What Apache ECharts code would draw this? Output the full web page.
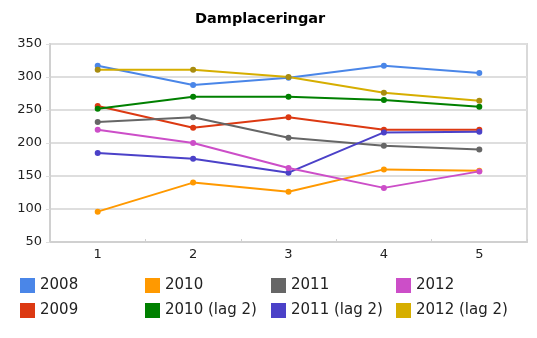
<!DOCTYPE html>
<html><head><meta charset="utf-8">
<script src="https://cdn.jsdelivr.net/npm/echarts@6/dist/echarts.min.js"></script>
<style>html,body{margin:0;padding:0;background:#fff}#c{width:537px;height:338px}</style>
</head><body><div id="c"></div>
<script>
var categories = ['1','2','3','4','5'];
var seriesNames = ['2008','2009','2010','2010 (lag 2)','2011','2011 (lag 2)','2012','2012 (lag 2)'];
var s2008 = [317, 288, 299, 317, 306];
var s2009 = [256, 223, 239, 220, 220];
var s2010 = [96, 140, 126, 160, 158];
var s2010lag2 = [252, 270, 270, 265, 255];
var s2011 = [232, 239, 208, 196, 190];
var s2011lag2 = [185, 176, 155, 216, 217];
var s2012 = [220, 200, 162, 132, 157];
var s2012lag2 = [311, 311, 300, 276, 264];
var colors = ['#4a86e8','#dc3912','#ff9900','#008000','#666666','#4b41c8','#cc4ec8','#d6ae00'];
var yTicks = [50,100,150,200,250,300,350];

var values = [s2008, s2009, s2010, s2010lag2, s2011, s2011lag2, s2012, s2012lag2];
var font = 'DejaVu Sans';
var chart = echarts.init(document.getElementById('c'), null, {renderer:'canvas'});
var series = seriesNames.map(function(n,i){
  return {
    name: n, type: 'line', data: values[i],
    symbol: 'circle', symbolSize: 6,
    lineStyle: {width: 2, color: colors[i]},
    itemStyle: {color: i===7 ? '#a88c10' : colors[i]},
    emphasis: {disabled: true},
    animation: false
  };
});
var legendCols = [[0,1],[2,3],[4,5],[6,7]];
var lefts = [20, 145, 271, 396];
var legends = legendCols.map(function(c,k){
  return {
    orient: 'vertical', left: lefts[k], top: 278, padding: 0,
    itemWidth: 15, itemHeight: 15, itemGap: 10,
    icon: 'rect', selectedMode: false,
    data: c.map(function(i){return {name: seriesNames[i], itemStyle: {color: colors[i]}};}),
    textStyle: {fontFamily: font, fontSize: 15, color: '#222'}
  };
});
chart.setOption({
  backgroundColor: '#fff',
  color: colors,
  title: {text: 'Damplaceringar', left: 195, top: 12, padding: 0,
    textStyle: {fontFamily: font, fontSize: 14.5, fontWeight: 'bold', color: '#000'}},
  legend: legends,
  grid: {left: 50, right: 10, top: 44, bottom: 96, show: true, borderColor: '#d9d9d9', borderWidth: 2},
  xAxis: {type: 'category', data: categories, boundaryGap: true,
    axisLine: {lineStyle: {color: '#d0d0d0', width: 2}},
    axisTick: {show: true, inside: true, length: 3, lineStyle: {color: '#d0d0d0'}},
    axisLabel: {fontFamily: font, fontSize: 13, color: '#222', margin: 6}},
  yAxis: {type: 'value', min: yTicks[0], max: yTicks[yTicks.length-1], interval: 50,
    axisLine: {show: true, lineStyle: {color: '#d0d0d0', width: 2}},
    axisTick: {show: true, length: 4, lineStyle: {color: '#dedede'}},
    splitLine: {lineStyle: {color: '#dedede', width: 2}},
    axisLabel: {fontFamily: font, fontSize: 13, color: '#222', margin: 8}},
  series: series,
  animation: false
});
</script></body></html>
